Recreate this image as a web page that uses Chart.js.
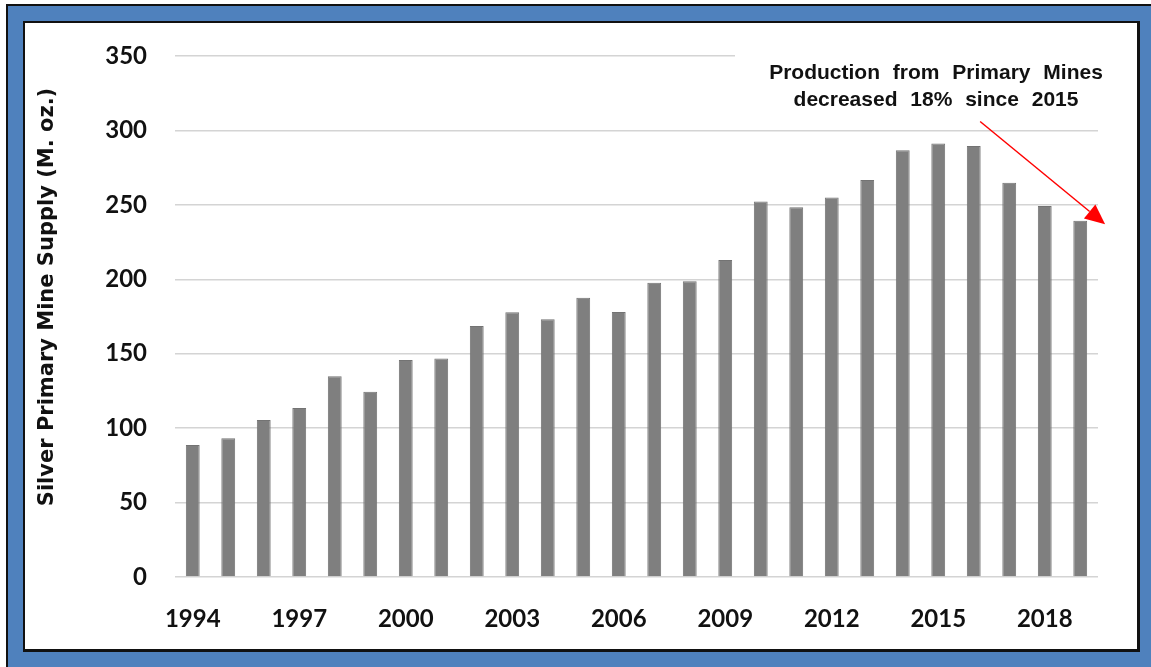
<!DOCTYPE html>
<html>
<head>
<meta charset="utf-8">
<script src="https://cdn.jsdelivr.net/npm/chart.js@4/dist/chart.umd.min.js"></script>
<style>
  html, body { margin: 0; padding: 0; background: #fff; }
  body { width: 1151px; height: 667px; position: relative; overflow: hidden; }
  .frame {
    position: absolute; left: 6px; top: 4px; right: 0; bottom: 0;
    background: #4F81BD; border-top: 2px solid #111; border-left: 2px solid #111;
  }
  .panel {
    position: absolute; left: 23px; top: 21px; width: 1112px; height: 626px;
    background: #fff; border: 2px solid #111; border-right-width: 3px; border-bottom-width: 3px;
  }
  #chart { position: absolute; left: 0; top: 0; }
</style>
</head>
<body>
<div class="frame"></div>
<div class="panel"></div>
<canvas id="chart" width="1151" height="667"></canvas>
<script>
// Silver primary mine supply, million ounces
const years = ['1994','1995','1996','1997','1998','1999','2000','2001','2002','2003','2004','2005','2006',
  '2007','2008','2009','2010','2011','2012','2013','2014','2015','2016','2017','2018','2019'];
const supply = [88.7, 93.2, 105.4, 113.5, 134.9, 124.5, 145.7, 146.8, 168.6, 177.9, 173.2, 187.6, 178.0,
  197.6, 198.7, 212.9, 252.2, 248.4, 254.9, 266.7, 286.7, 291.3, 289.5, 264.9, 249.3, 239.3];
const yTicks = [0, 50, 100, 150, 200, 250, 300, 350];
const yTitle = 'Silver Primary Mine Supply (M. oz.)';
const noteLines = ['Production from Primary Mines', 'decreased 18% since 2015'];

const FONT = "Lato, 'Open Sans', sans-serif";

// Y axis title, note box and red arrow
const notePlugin = {
  id: 'note',
  afterDraw(chart) {
    const { ctx, scales: { x, y } } = chart;
    ctx.save();

    // y title, sits a bit above the plot's middle like the original
    ctx.save();
    ctx.translate(48, 297);
    ctx.rotate(-Math.PI / 2);
    ctx.fillStyle = '#111';
    ctx.font = "bold 21px 'DejaVu Sans', sans-serif";
    ctx.textAlign = 'center';
    ctx.textBaseline = 'middle';
    ctx.fillText(yTitle, 0, 0);
    ctx.restore();

    // white box hides the top gridline behind the note
    ctx.fillStyle = '#fff';
    ctx.fillRect(735, 48, 380, 64);

    ctx.fillStyle = '#111';
    ctx.font = "bold 21px 'Liberation Sans', Arial, sans-serif";
    ctx.wordSpacing = '7px';
    ctx.textAlign = 'center';
    ctx.textBaseline = 'middle';
    ctx.fillText(noteLines[0], 936, 73);
    ctx.fillText(noteLines[1], 936, 100);
    ctx.wordSpacing = '0px';

    // arrow from the note to the last bar
    const x0 = x.getPixelForValue(22.18), y0 = y.getPixelForValue(306);
    const x1 = x.getPixelForValue(25.7), y1 = y.getPixelForValue(237);
    const ang = Math.atan2(y1 - y0, x1 - x0);
    const head = 20, half = 9;
    const bx = x1 - head * Math.cos(ang), by = y1 - head * Math.sin(ang);
    ctx.strokeStyle = '#FF0000';
    ctx.fillStyle = '#FF0000';
    ctx.lineWidth = 1.5;
    ctx.beginPath();
    ctx.moveTo(x0, y0);
    ctx.lineTo(bx, by);
    ctx.stroke();
    ctx.beginPath();
    ctx.moveTo(x1, y1);
    ctx.lineTo(bx + half * Math.sin(ang), by - half * Math.cos(ang));
    ctx.lineTo(bx - half * Math.sin(ang), by + half * Math.cos(ang));
    ctx.closePath();
    ctx.fill();
    ctx.restore();
  }
};

new Chart(document.getElementById('chart'), {
  type: 'bar',
  data: {
    labels: years,
    datasets: [{
      data: supply,
      backgroundColor: '#7F7F7F',
      borderColor: '#737373',
      borderWidth: 1,
      barPercentage: 0.39,
      categoryPercentage: 1
    }]
  },
  options: {
    responsive: false,
    animation: false,
    devicePixelRatio: 1,
    layout: { padding: { top: 56, right: 53, left: 0, bottom: 0 } },
    plugins: { legend: { display: false }, tooltip: { enabled: false } },
    scales: {
      x: {
        afterFit: s => { s.height = 90; },
        grid: { display: false },
        border: { display: false },
        ticks: {
          autoSkip: false,
          maxRotation: 0,
          padding: 20,
          color: '#111',
          font: { family: FONT, size: 24, weight: 'bold' },
          callback: (v, i) => (i % 3 === 0 ? years[i] : '')
        }
      },
      y: {
        min: 0,
        max: 350,
        afterFit: s => { s.width = 175; },
        afterBuildTicks: s => { s.ticks = yTicks.map(v => ({ value: v })); },
        grid: { color: '#D4D4D4', lineWidth: 1.5, drawTicks: false },
        border: { display: false },
        ticks: {
          padding: 28,
          color: '#111',
          font: { family: FONT, size: 24, weight: 'bold' }
        }
      }
    }
  },
  plugins: [notePlugin]
});
</script>
</body>
</html>
